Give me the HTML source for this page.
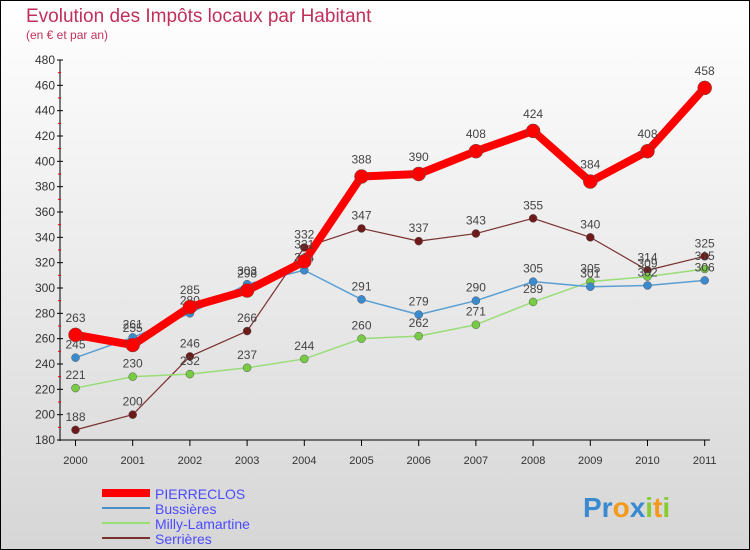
<!DOCTYPE html>
<html><head><meta charset="utf-8"><style>
body{margin:0;width:750px;height:550px;overflow:hidden;font-family:"Liberation Sans",sans-serif}
svg{display:block}
</style></head><body>
<svg id="c" width="750" height="550">
<defs><linearGradient id="bg" x1="0" y1="0" x2="0" y2="1"><stop offset="0" stop-color="#ffffff"/><stop offset="1" stop-color="#d6d6d6"/></linearGradient></defs>
<rect x="0.5" y="0.5" width="749" height="549" fill="url(#bg)" stroke="#000"/>
<text x="26" y="22" font-size="19" fill="#c0305a">Evolution des Impôts locaux par Habitant</text>
<text x="26" y="39" font-size="12" fill="#c0305a">(en € et par an)</text>
<g id="axes"></g><g id="series"></g>
<g>
<line x1="102" y1="493" x2="150" y2="493" stroke="#ff0000" stroke-width="8"/>
<text x="155" y="499" font-size="14" fill="#4b4bff">PIERRECLOS</text>
<line x1="102" y1="508" x2="150" y2="508" stroke="#4a90c8" stroke-width="2"/>
<text x="155" y="514" font-size="14" fill="#4b4bff">Bussières</text>
<line x1="102" y1="523" x2="150" y2="523" stroke="#99dd77" stroke-width="2"/>
<text x="155" y="529" font-size="14" fill="#4b4bff">Milly-Lamartine</text>
<line x1="102" y1="538" x2="150" y2="538" stroke="#7a3030" stroke-width="2"/>
<text x="155" y="544" font-size="14" fill="#4b4bff">Serrières</text>
</g>
<text x="583" y="517" font-size="28" font-weight="bold"><tspan fill="#3a8ad0">Pr</tspan><tspan fill="#f39a1a">o</tspan><tspan fill="#3a8ad0">x</tspan><tspan fill="#88cc33">i</tspan><tspan fill="#f39a1a">t</tspan><tspan fill="#88cc33">i</tspan></text>
</svg>
<script>
const years=["2000","2001","2002","2003","2004","2005","2006","2007","2008","2009","2010","2011"];
const pierreclos=[263,255,285,298,321,388,390,408,424,384,408,458];
const bussieres=[245,261,280,303,314,291,279,290,305,301,302,306];
const milly=[221,230,232,237,244,260,262,271,289,305,309,315];
const serrieres=[188,200,246,266,332,347,337,343,355,340,314,325];
const yTicks=[180,200,220,240,260,280,300,320,340,360,380,400,420,440,460,480];
const NS="http://www.w3.org/2000/svg";
const X=i=>75.5+i*57.2;
const Y=v=>440-(v-180)*380/300;
function mk(tag,attrs,parent){const e=document.createElementNS(NS,tag);for(const k in attrs)e.setAttribute(k,attrs[k]);parent.appendChild(e);return e;}
const axes=document.getElementById('axes');
let a=mk('line',{x1:60,y1:60,x2:60,y2:441,stroke:'#000'},axes);


a=mk('line',{x1:60,y1:440,x2:710,y2:440,stroke:'#000'},axes);


yTicks.forEach((v,i)=>{
  mk('line',{x1:57,y1:Y(v),x2:63,y2:Y(v),stroke:'#000'},axes);
  if(i<yTicks.length-1) mk('line',{x1:58,y1:Y(v+10),x2:61,y2:Y(v+10),stroke:'#e00'},axes);
  const t=mk('text',{x:55,y:Y(v)+4,'text-anchor':'end','font-size':12,fill:'#333'},axes);
  t.textContent=v;
  
  
});
years.forEach((y,i)=>{
  mk('line',{x1:X(i),y1:440,x2:X(i),y2:446,stroke:'#000'},axes);
  const t=mk('text',{x:X(i),y:464,'text-anchor':'middle','font-size':11,fill:'#333'},axes);
  t.textContent=y;
  
  
});
const sg=document.getElementById('series');
function draw(data,color,w,r,name,dot){
  const g=mk('g',{},sg);
  
  
  const p=mk('polyline',{points:data.map((v,i)=>X(i)+','+Y(v)).join(' '),fill:'none',stroke:color,'stroke-width':w,'stroke-linejoin':'round'},g);
  
  
  data.forEach((v,i)=>{
    const c=mk('circle',{cx:X(i),cy:Y(v),r:r,fill:dot,stroke:'#555','stroke-width':0.5},g);
    
    
    const t=mk('text',{x:X(i),y:Y(v)-9-(r>5?4:0),'text-anchor':'middle','font-size':12,fill:'#444'},g);
    t.textContent=v;
    
    
  });
}
draw(serrieres,'#7a3030',1.2,4,'serrieres','#6e1a1a');
draw(milly,'#99dd77',1.5,4,'milly-lamartine','#77cc44');
draw(bussieres,'#5a9fd4',1.5,4,'bussieres','#3a8ad0');
draw(pierreclos,'#ff0000',8,7,'pierreclos','#ff0000');
</script>
</body></html>
